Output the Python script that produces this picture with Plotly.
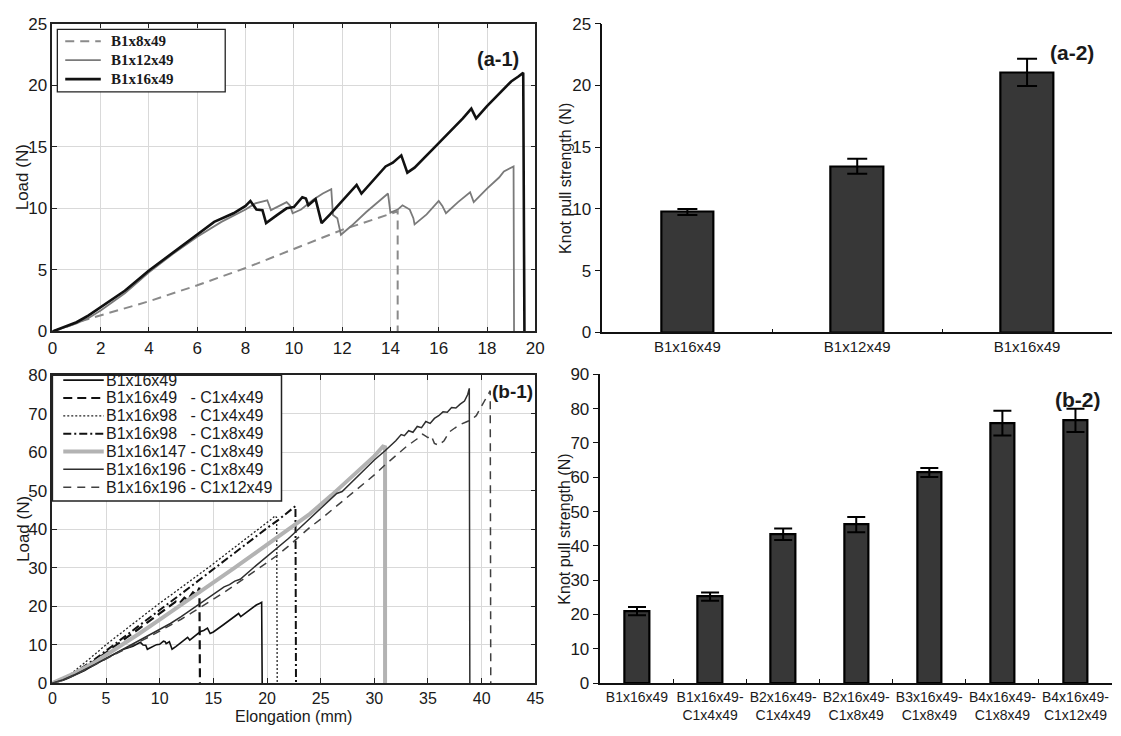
import plotly.graph_objects as go

W, H = 1121, 736

# ---------------- data: panel (a-1) ----------------
a1_b8_x = [0, 0.5, 1.2, 2, 4, 6, 8, 10, 12, 14, 14.3, 14.3]
a1_b8_y = [0, 0.3, 0.85, 1.3, 2.45, 3.75, 5.15, 6.7, 8.25, 9.55, 9.75, 0]

a1_b12_x = [0, 0.5, 1, 1.5, 2, 3, 4, 5, 6, 7, 7.5, 8, 8.4, 8.9, 9.05, 9.4, 9.7, 9.85, 9.95, 10.3,
            10.8, 11.2, 11.55, 11.62, 11.8, 11.95, 12.05, 12.4, 13, 13.5, 13.9, 14.0, 14.3, 14.5, 14.8,
            14.95, 15.0, 15.5, 16.0, 16.15, 16.3, 16.8, 17.3, 17.45, 18.0, 18.5, 18.7, 19.1, 19.12]
a1_b12_y = [0, 0.3, 0.65, 1.1, 1.7, 3.1, 4.8, 6.3, 7.7, 8.9, 9.4, 9.9, 10.4, 10.65, 9.85, 10.2, 10.5, 10.2, 9.6, 9.9,
            10.7, 11.2, 11.55, 9.45, 9.2, 7.85, 8.0, 8.6, 9.7, 10.5, 11.2, 9.65, 9.9, 10.25, 9.9,
            9.2, 8.7, 9.5, 10.6, 10.2, 9.6, 10.5, 11.3, 10.5, 11.6, 12.5, 13.0, 13.4, 0]

a1_b16_x = [0, 0.5, 1, 1.5, 2, 3, 4, 5, 6, 6.7, 7.5, 8.0, 8.2, 8.45, 8.7, 8.85, 9.3, 9.7, 10.0, 10.35,
            10.5, 10.6, 10.9, 11.15, 11.5, 12.0, 12.5, 12.6, 12.8, 13.3, 13.8, 14.1, 14.45, 14.7, 15.0,
            16.0, 17.0, 17.35, 17.55, 18.0, 19.0, 19.3, 19.5, 19.55]
a1_b16_y = [0, 0.35, 0.75, 1.3, 1.95, 3.3, 4.95, 6.4, 7.9, 8.9, 9.6, 10.2, 10.6, 9.9, 9.85, 8.8, 9.45, 10.0, 10.1, 10.9,
            10.8, 10.25, 10.75, 8.8, 9.5, 10.6, 11.7, 11.9, 11.2, 12.3, 13.4, 13.7, 14.3, 12.9, 13.3,
            15.3, 17.3, 18.1, 17.3, 18.3, 20.3, 20.7, 21.0, 0]

a1_labels = ["B1x8x49", "B1x12x49", "B1x16x49"]

# ---------------- data: panel (a-2) ----------------
a2_categories = ["B1x16x49", "B1x12x49", "B1x16x49"]
a2_values = [9.75, 13.45, 21.05]
a2_errors = [0.25, 0.6, 1.1]

# ---------------- data: panel (b-1) ----------------
b1_c4_x = [0, 1, 2, 3, 4, 5, 6, 7, 8, 9, 10, 11, 11.5, 11.8, 12.3, 12.6, 13.1, 13.4, 13.7, 13.75]
b1_c4_y = [0, 1.0, 2.4, 4.0, 5.9, 8.0, 10.0, 12.0, 14.0, 16.0, 18.0, 20.0, 21.2, 20.6, 22.2, 21.6, 23.6, 23.0, 24.8, 0]

b1_98c4_x = [0, 1, 2, 3, 4, 5, 6, 7, 8, 9, 10, 11, 12, 13, 14, 15, 16, 17, 18, 19, 20, 20.5, 20.75, 20.9, 20.95]
b1_98c4_y = [0, 1.2, 3.0, 5.2, 7.6, 10.0, 12.2, 14.3, 16.4, 18.6, 20.8, 22.8, 24.8, 26.9, 29.0, 31.0, 33.2,
             35.3, 37.5, 39.6, 41.7, 42.8, 43.5, 43.0, 0]

b1_98c8_x = [0, 2, 4, 6, 8, 10, 12, 14, 16, 18, 20, 21, 22, 22.65, 22.7]
b1_98c8_y = [0, 2.6, 6.3, 10.6, 14.8, 19.0, 23.2, 27.5, 31.8, 36.0, 40.3, 42.3, 44.4, 46.0, 0]

b1_147c8_x = [0, 2, 4, 6, 8, 10, 12, 13.5, 15, 17, 19, 20, 22, 24, 26, 28, 30, 30.8, 31.0, 31.0]
b1_147c8_y = [0, 2.5, 5.5, 9.0, 12.7, 16.5, 20.3, 23.2, 26.2, 30.0, 34.0, 36.0, 40.3, 44.0, 48.8, 53.8,
              59.0, 61.5, 61.3, 0]

b1_196c8_x = [0, 1, 2, 3, 4, 5, 6, 7, 8, 9, 10, 11, 12, 13, 14, 15, 16, 16.5, 17, 17.5, 18, 18.5, 19,
              20, 21, 22, 23, 24, 25, 26, 26.5, 27, 27.5, 28, 29, 30, 31, 32, 32.5, 32.8, 33.2, 33.6,
              34, 34.4, 34.8, 35.2, 35.6, 36, 36.4, 36.8, 37.2, 37.6, 38.0, 38.4, 38.7, 38.85, 38.9]
b1_196c8_y = [0, 0.9, 2.1, 3.4, 4.9, 6.4, 7.9, 9.3, 10.8, 12.3, 13.8, 15.5, 17.3, 19.2, 21.3, 23.2, 25.0,
              25.6, 26.5, 27.0, 28.3, 29.4, 30.6, 32.9, 35.2, 37.6, 40.2, 42.8, 45.3, 47.8, 49.3, 49.8,
              51.2, 52.6, 55.4, 58.0, 60.4, 63.0, 64.6, 64.3, 65.6, 65.2, 66.7, 66.4, 68.0, 67.5, 68.8,
              69.5, 70.5, 70.4, 71.6, 71.5, 72.5, 73.3, 75.0, 76.6, 0]

b1_196c12_x = [0, 1, 2, 3, 4, 5, 6, 7, 8, 9, 10, 11, 12, 13, 14, 15, 16, 17, 18, 19, 20, 21, 22, 23, 24,
               25, 26, 27, 28, 29, 30, 31, 32, 33, 34, 34.5, 35, 35.3, 35.6, 36, 36.5, 37, 37.5, 38,
               38.5, 39, 39.5, 40, 40.5, 40.8, 40.85]
b1_196c12_y = [0, 0.8, 2.0, 3.3, 4.8, 6.3, 7.8, 9.2, 10.6, 12.0, 13.5, 15.0, 16.6, 18.3, 20.0, 21.8, 23.6,
               25.5, 27.4, 29.4, 31.3, 33.3, 35.6, 38.1, 40.5, 42.6, 44.9, 47.1, 49.3, 51.6, 54.1, 56.7,
               59.0, 61.5, 63.5, 64.7, 63.8, 64.3, 62.3, 61.8, 63.0, 65.3, 66.3, 67.2, 67.8, 68.4, 69.5,
               72.0, 74.5, 76.0, 0]

b1_names = ["B1x16x49", "B1x16x49", "B1x16x98", "B1x16x98", "B1x16x147", "B1x16x196", "B1x16x196"]
b1_partners = ["", "C1x4x49", "C1x4x49", "C1x8x49", "C1x8x49", "C1x8x49", "C1x12x49"]

# ---------------- data: panel (b-2) ----------------
b2_categories = ["B1x16x49", "B1x16x49-<br>C1x4x49", "B2x16x49-<br>C1x4x49", "B2x16x49-<br>C1x8x49",
                 "B3x16x49-<br>C1x8x49", "B4x16x49-<br>C1x8x49", "B4x16x49-<br>C1x12x49"]
b2_values = [21.0, 25.2, 43.4, 46.2, 61.4, 75.8, 76.6]
b2_errors = [1.2, 1.2, 1.7, 2.2, 1.3, 3.6, 3.4]

# ---------------- helpers ----------------
FONT = "Arial, Liberation Sans, sans-serif"


def px(x):
    return x / W


def py(y):
    return 1 - y / H


# plot-area boxes in pixels: (left, right, top, bottom)
A1 = (48, 537, 15, 331)
B1 = (48, 537, 376, 692)
A2 = (605, 1121, 15, 332)
B2 = (603, 1121, 375, 692)

fig = go.Figure()

# ---- (a-1) lines
a1_styles = [
    dict(color="#8a8a8a", width=2, dash="9px,6px"),
    dict(color="#7a7a7a", width=1.8),
    dict(color="#111111", width=2.6),
]
for xs, ys, st, nm in zip([a1_b8_x, a1_b12_x, a1_b16_x], [a1_b8_y, a1_b12_y, a1_b16_y], a1_styles, a1_labels):
    fig.add_trace(go.Scatter(x=xs, y=ys, mode="lines", line=st, name=nm, showlegend=False,
                             xaxis="x", yaxis="y"))

# ---- (b-1) lines
b1_series = [
    (a1_b16_x, a1_b16_y, dict(color="#111111", width=1.6)),
    (b1_c4_x, b1_c4_y, dict(color="#111111", width=2.2, dash="9px,5px")),
    (b1_98c4_x, b1_98c4_y, dict(color="#222222", width=1.3, dash="2px,2px")),
    (b1_98c8_x, b1_98c8_y, dict(color="#111111", width=2, dash="8px,3px,2px,3px")),
    (b1_147c8_x, b1_147c8_y, dict(color="#b3b3b3", width=4)),
    (b1_196c8_x, b1_196c8_y, dict(color="#2e2e2e", width=1.5)),
    (b1_196c12_x, b1_196c12_y, dict(color="#404040", width=1.5, dash="8px,6px")),
]
for (xs, ys, st), nm, pt in zip(b1_series, b1_names, b1_partners):
    fig.add_trace(go.Scatter(x=xs, y=ys, mode="lines", line=st, name=(nm + (" - " + pt if pt else "")),
                             showlegend=False, xaxis="x3", yaxis="y3"))

# ---- (a-2) bars
fig.add_trace(go.Bar(x=list(range(len(a2_categories))), y=a2_values, width=0.31,
                     marker=dict(color="#373737", line=dict(color="#000000", width=2.2)),
                     error_y=dict(type="data", array=a2_errors, color="#000000", thickness=2, width=10),
                     showlegend=False, xaxis="x2", yaxis="y2"))

# ---- (b-2) bars
fig.add_trace(go.Bar(x=list(range(len(b2_categories))), y=b2_values, width=0.335,
                     marker=dict(color="#373737", line=dict(color="#000000", width=2.2)),
                     error_y=dict(type="data", array=b2_errors, color="#000000", thickness=2, width=9),
                     showlegend=False, xaxis="x4", yaxis="y4"))

tickfont = dict(family=FONT, size=17, color="#1a1a1a")
grid = "#d9d9d9"


def box_axis(dom, rng, dtick, anchor, size=17):
    return dict(domain=dom, range=rng, dtick=dtick, tick0=0, showgrid=True, gridcolor=grid, gridwidth=1,
                showline=True, linecolor="#222222", linewidth=1.5, mirror="ticks", ticks="inside",
                ticklen=5, tickcolor="#222222", tickfont=dict(family=FONT, size=size, color="#1a1a1a"),
                zeroline=False, anchor=anchor, fixedrange=True)


layout = dict(
    width=W, height=H, margin=dict(l=0, r=0, t=0, b=0),
    paper_bgcolor="white", plot_bgcolor="white", bargap=0,
    xaxis=box_axis([px(A1[0]), px(A1[1])], [0, 20], 2, "y"),
    yaxis=box_axis([py(A1[3]), py(A1[2])], [0, 25], 5, "x"),
    xaxis3=box_axis([px(B1[0]), px(B1[1])], [0, 45], 5, "y3", size=16),
    yaxis3=box_axis([py(B1[3]), py(B1[2])], [0, 80], 10, "x3"),
    xaxis2=dict(domain=[px(A2[0]), px(A2[1])], range=[-0.5, 2.5], anchor="y2",
                tickvals=list(range(len(a2_categories))), ticktext=a2_categories, ticks="",
                tickfont=dict(family=FONT, size=15, color="#1a1a1a"), showline=True, linecolor="#111",
                linewidth=1.5, showgrid=False, zeroline=False,
                minor=dict(tickvals=[0.5, 1.5], ticks="inside", ticklen=4, tickcolor="#111", showgrid=False)),
    yaxis2=dict(domain=[py(A2[3]), py(A2[2])], range=[0, 25], dtick=5, anchor="x2", ticks="outside",
                ticklen=6, tickcolor="#111", showline=True, linecolor="#111", linewidth=1.5,
                showgrid=False, zeroline=False, tickfont=tickfont),
    xaxis4=dict(domain=[px(B2[0]), px(B2[1])], range=[-0.5, 6.5], anchor="y4",
                tickvals=list(range(len(b2_categories))), ticktext=b2_categories, ticks="",
                tickfont=dict(family=FONT, size=14, color="#1a1a1a"), showline=True, linecolor="#111",
                linewidth=1.5, showgrid=False, zeroline=False,
                minor=dict(tickvals=[0.5, 1.5, 2.5, 3.5, 4.5, 5.5], ticks="inside", ticklen=4,
                           tickcolor="#111", showgrid=False)),
    yaxis4=dict(domain=[py(B2[3]), py(B2[2])], range=[0, 90], dtick=10, anchor="x4", ticks="outside",
                ticklen=6, tickcolor="#111", showline=True, linecolor="#111", linewidth=1.5,
                showgrid=False, zeroline=False, tickfont=tickfont),
)
fig.update_layout(**layout)

annotations = []
shapes = []


def note(text, x, y, size, family=FONT, angle=0, xanchor="center", yanchor="middle", xref="paper",
         yref="paper"):
    annotations.append(dict(text=text, x=x, y=y, xref=xref, yref=yref, textangle=angle, showarrow=False,
                            xanchor=xanchor, yanchor=yanchor, borderpad=0,
                            font=dict(family=family, size=size, color="#1a1a1a")))


# axis titles
note("Load (N)", px(18), py((A1[2] + A1[3]) / 2), 17, angle=-90)
note("Load (N)", px(18), py((B1[2] + B1[3]) / 2), 17, angle=-90)
note("Elongation (mm)", px(292), 0.0, 16, yanchor="bottom")
note("Knot pull strength (N)", px(567), py((A2[2] + A2[3]) / 2), 16, angle=-90)
note("Knot pull strength (N)", px(567), py((B2[2] + B2[3]) / 2), 16, angle=-90)

# panel labels
note("<b>(a-1)</b>", 18.45, 22.1, 20, xref="x", yref="y")
note("<b>(b-1)</b>", 42.9, 75.7, 19, xref="x3", yref="y3")
note("<b>(a-2)</b>", px(1080), py(45), 21)
note("<b>(b-2)</b>", px(1087), py(401), 21)

# legend (a-1)
shapes.append(dict(type="rect", xref="paper", yref="paper", x0=px(53), x1=px(223), y0=py(85), y1=py(21),
                   fillcolor="white", line=dict(color="#222", width=1.3), layer="above"))
for i, (nm, st) in enumerate(zip(a1_labels, a1_styles)):
    yy = 33 + 19.5 * i
    shapes.append(dict(type="line", xref="paper", yref="paper", x0=px(61), x1=px(97), y0=py(yy), y1=py(yy),
                       line=st, layer="above"))
    note("<b>" + nm + "</b>", px(106), py(yy), 15, family="Liberation Serif, Times New Roman, serif",
         xanchor="left")

# legend (b-1)
shapes.append(dict(type="rect", xref="paper", yref="paper", x0=px(B1[0]), x1=px(280), y0=py(505), y1=py(B1[2]),
                   fillcolor="white", line=dict(color="#222", width=1.5), layer="above"))
pad = {"B1x16x49": "\u00a0\u00a0\u00a0", "B1x16x98": "\u00a0\u00a0\u00a0", "B1x16x147": "\u00a0",
       "B1x16x196": "\u00a0"}
for i, ((xs, ys, st), nm, pt) in enumerate(zip(b1_series, b1_names, b1_partners)):
    yy = 381 + 18.3 * i
    shapes.append(dict(type="line", xref="paper", yref="paper", x0=px(59), x1=px(100), y0=py(yy), y1=py(yy),
                       line=st, layer="above"))
    label = nm if not pt else nm + pad[nm] + "- " + pt
    note(label, px(101), py(yy), 16, xanchor="left")

fig.update_layout(annotations=annotations, shapes=shapes)
fig.write_html("out.html")
